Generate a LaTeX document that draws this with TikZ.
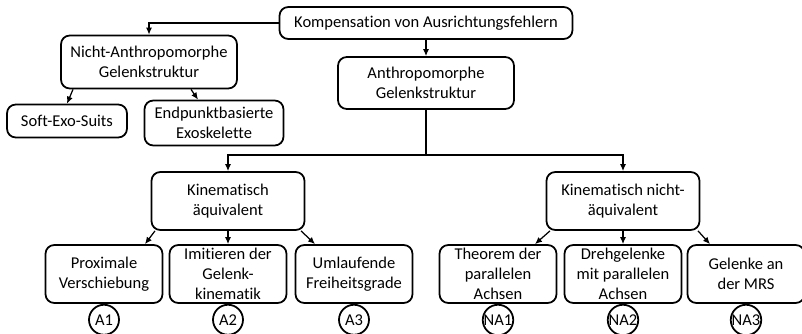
\documentclass[tikz,border=0pt]{standalone}
\usepackage{fontspec}
\setmainfont{Carlito}[Ligatures=NoCommon]
\usepackage{tikz}
\usetikzlibrary{arrows.meta,positioning}
\def\pu{0.02cm}
\tikzset{
    box/.style={draw, rounded corners=5pt, line width=1pt, align=center, inner sep=1pt, font=\fontsize{9.4}{11.4}\selectfont}, % Kasten
    tag/.style={draw, circle, line width=1pt, minimum size=30*\pu, inner sep=0pt, font=\fontsize{9.4}{11}\selectfont}, % Kennung
    arr/.style={line width=0.7pt, -{Latex[length=4pt, width=3.5pt]}} % Pfeil
}

\begin{document}
\begin{tikzpicture}[x=0.02cm, y=-0.02cm]
    \useasboundingbox (0,0) rectangle (802,334);

    \node[box, minimum width=293*\pu, minimum height=32*\pu] (top) at (426,23) {Kompensation von Ausrichtungsfehlern};
    \node[box, minimum width=176*\pu, minimum height=53*\pu] (nicht) at (149,62) {Nicht-Anthropomorphe\\Gelenkstruktur};
    \node[box, minimum width=176*\pu, minimum height=52*\pu] (anthro) at (426,83) {Anthropomorphe\\Gelenkstruktur};
    \node[box, minimum width=120*\pu, minimum height=33*\pu] (soft) at (67,121) {Soft-Exo-Suits};
    \node[box, minimum width=139*\pu, minimum height=45*\pu] (endp) at (214,123) {Endpunktbasierte\\Exoskelette};
    \node[box, minimum width=153*\pu, minimum height=58*\pu] (kaeq) at (228,201) {Kinematisch\\äquivalent};
    \node[box, minimum width=153*\pu, minimum height=58*\pu] (knaeq) at (623,201) {Kinematisch nicht-\\äquivalent};

    \foreach \n/\x/\t/\c in {prox/104/{Proximale\\Verschiebung}/A1, imit/228/{Imitieren der\\Gelenk-\\kinematik}/A2,
        umlauf/354/{Umlaufende\\Freiheitsgrade}/A3, theo/498/{Theorem der\\parallelen\\Achsen}/NA1,
        dreh/623/{Drehgelenke\\mit parallelen\\Achsen}/NA2, mrs/746/{Gelenke an\\der MRS}/NA3} {
        \node[box, minimum width=117*\pu, minimum height=58*\pu] (\n) at (\x,274) {\t};
        \node[tag, below=0pt of \n] (\n-tag) {\c};
    }

    \draw[arr] (top.west) -| (nicht.north);
    \draw[arr] (top.south) -- (anthro.north);
    \draw[arr] ([xshift=-76*\pu]nicht.south) -- (soft.north);
    \draw[arr] ([xshift=42*\pu]nicht.south) -- ([xshift=-16*\pu]endp.north);

    \coordinate (split) at (426,155);
    \draw[line width=0.7pt] (anthro.south) -- (split);
    \draw[arr] (split) -| (kaeq.north);
    \draw[arr] (split) -| (knaeq.north);

    \draw[arr] ([xshift=-73*\pu]kaeq.south) -- ([xshift=41*\pu]prox.north);
    \draw[arr] (kaeq.south) -- (imit.north);
    \draw[arr] ([xshift=73*\pu]kaeq.south) -- ([xshift=-39*\pu]umlauf.north);
    \draw[arr] ([xshift=-73*\pu]knaeq.south) -- ([xshift=37*\pu]theo.north);
    \draw[arr] (knaeq.south) -- (dreh.north);
    \draw[arr] ([xshift=75*\pu]knaeq.south) -- ([xshift=-36*\pu]mrs.north);
\end{tikzpicture}
\end{document}
